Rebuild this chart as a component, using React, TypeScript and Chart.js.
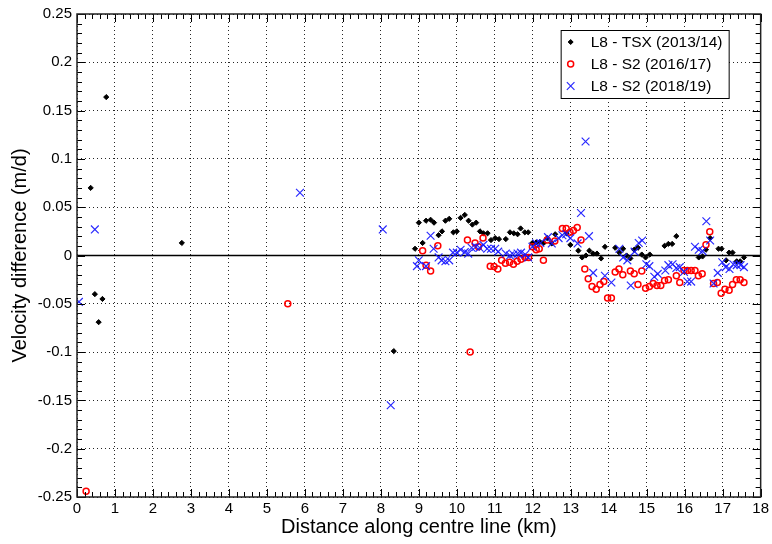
import React, { useEffect, useRef } from 'react';
import { Chart, registerables } from 'chart.js';

Chart.register(...registerables);

// ---------- data ----------
const xTickValues = [0, 1, 2, 3, 4, 5, 6, 7, 8, 9, 10, 11, 12, 13, 14, 15, 16, 17, 18];
const yTickValues = [-0.25, -0.2, -0.15, -0.1, -0.05, 0, 0.05, 0.1, 0.15, 0.2, 0.25];

const seriesLabels = ['L8 - TSX (2013/14)', 'L8 - S2 (2016/17)', 'L8 - S2 (2018/19)'];

const tsxX = [0.36, 0.47, 0.57, 0.67, 0.77, 2.76, 8.34,
  8.90, 9.00, 9.10, 9.19, 9.31, 9.40, 9.52, 9.61, 9.70, 9.80, 9.91, 10.00, 10.10, 10.21, 10.31, 10.41, 10.51, 10.61, 10.70, 10.81, 10.90, 11.01, 11.11, 11.29, 11.40, 11.50, 11.60, 11.68, 11.79, 11.88, 11.99, 12.09, 12.19, 12.29, 12.38, 12.50, 12.59, 12.89, 12.99, 13.20, 13.30, 13.40, 13.49, 13.59, 13.69, 13.80, 13.90, 14.17, 14.28, 14.38, 14.47, 14.57, 14.67, 14.77, 14.87, 14.97, 15.08, 15.47, 15.57, 15.67, 15.78, 16.37, 16.47, 16.56, 16.67, 16.89, 16.97, 17.09, 17.17, 17.26, 17.37, 17.46, 17.56];
const tsxY = [0.070, -0.040, -0.069, -0.045, 0.164, 0.013, -0.099,
  0.007, 0.034, 0.013, 0.036, 0.037, 0.034, 0.021, 0.025, 0.036, 0.038, 0.024, 0.025, 0.039, 0.042, 0.036, 0.032, 0.034, 0.025, 0.023, 0.023, 0.016, 0.018, 0.017, 0.017, 0.024, 0.023, 0.022, 0.028, 0.024, 0.024, 0.013, 0.0135, 0.014, 0.013, 0.018, 0.0125, 0.022, 0.023, 0.011, 0.005, -0.002, 0.000, 0.005, 0.002, 0.002, -0.003, 0.009, 0.008, 0.003, 0.007, 0.000, -0.003, 0.006, 0.008, 0.001, -0.002, 0.001, 0.010, 0.012, 0.012, 0.020, -0.002, -0.001, 0.006, 0.018, 0.007, 0.007, -0.005, 0.003, 0.003, -0.006, -0.006, -0.002];

const s2a_X = [0.24, 5.55, 10.35,
  9.10, 9.19, 9.31, 9.50, 10.28, 10.48, 10.57, 10.69, 10.88, 10.98, 11.08, 11.18, 11.28, 11.39, 11.49, 11.59, 11.69, 11.80, 11.89, 11.99, 12.09, 12.17, 12.28, 12.38, 12.58, 12.78, 12.88, 12.98, 13.07, 13.17, 13.27, 13.37, 13.46, 13.56, 13.67, 13.77, 13.87, 13.97, 14.07, 14.17, 14.27, 14.37, 14.57, 14.67, 14.77, 14.87, 14.97, 15.07, 15.17, 15.27, 15.37, 15.47, 15.57, 15.78, 15.87, 15.98, 16.07, 16.17, 16.27, 16.36, 16.46, 16.56, 16.66, 16.76, 16.86, 16.96, 17.06, 17.17, 17.26, 17.36, 17.46, 17.56];
const s2a_Y = [-0.244, -0.050, -0.100,
  0.005, -0.010, -0.016, 0.010, 0.016, 0.013, 0.009, 0.018, -0.011, -0.0115, -0.014, -0.005, -0.008, -0.007, -0.009, -0.006, -0.004, -0.002, -0.002, 0.009, 0.006, 0.007, -0.005, 0.016, 0.015, 0.028, 0.028, 0.024, 0.026, 0.029, 0.016, -0.014, -0.024, -0.032, -0.035, -0.030, -0.027, -0.044, -0.044, -0.017, -0.014, -0.020, -0.016, -0.019, -0.030, -0.016, -0.034, -0.032, -0.029, -0.031, -0.031, -0.026, -0.025, -0.021, -0.028, -0.0155, -0.0155, -0.0155, -0.0155, -0.021, -0.019, 0.011, 0.0245, -0.029, -0.028, -0.039, -0.035, -0.036, -0.030, -0.025, -0.025, -0.028];

const s2b_X = [0.05, 0.47, 5.87, 8.05, 8.26,
  8.95, 9.00, 9.19, 9.31, 9.39, 9.52, 9.60, 9.70, 9.80, 9.90, 10.00, 10.10, 10.21, 10.30, 10.39, 10.50, 10.60, 10.70, 10.80, 10.90, 11.01, 11.09, 11.29, 11.40, 11.49, 11.60, 11.69, 11.80, 11.88, 11.99, 12.09, 12.20, 12.40, 12.50, 12.68, 12.78, 12.88, 12.99, 13.18, 13.27, 13.39, 13.48, 13.59, 13.90, 14.07, 14.28, 14.38, 14.49, 14.58, 14.68, 14.79, 14.88, 14.99, 15.07, 15.20, 15.29, 15.49, 15.57, 15.68, 15.78, 15.87, 15.98, 16.07, 16.17, 16.27, 16.37, 16.47, 16.57, 16.67, 16.76, 16.87, 16.99, 17.08, 17.18, 17.28, 17.37, 17.47, 17.56];
const s2b_Y = [-0.048, 0.027, 0.065, 0.027, -0.155,
  -0.011, -0.005, -0.011, 0.0205, 0.007, -0.002, -0.005, -0.006, -0.005, 0.003, 0.003, 0.006, 0.0035, 0.002, 0.008, 0.009, 0.008, 0.011, 0.007, 0.007, 0.007, 0.004, 0.002, 0.000, 0.001, 0.002, 0.003, 0.001, -0.002, 0.009, 0.0125, 0.013, 0.019, 0.0125, 0.018, 0.021, 0.022, 0.018, 0.0125, 0.044, 0.118, 0.020, -0.018, -0.021, -0.028, 0.007, -0.002, -0.005, -0.031, 0.004, 0.013, 0.0155, -0.009, -0.011, -0.022, -0.019, -0.0155, -0.010, -0.009, -0.013, -0.012, -0.017, -0.027, -0.027, 0.009, 0.006, 0.0045, 0.0355, 0.0155, -0.029, -0.018, -0.007, -0.012, -0.014, -0.009, -0.010, -0.010, -0.012];

const FONT = "'Liberation Sans', Arial, Helvetica, sans-serif";
const BLUE = 'rgba(20,20,255,0.9)';
const RED = '#ff0000';

const pts = (xs: number[], ys: number[]) => xs.map((x, i) => ({ x, y: ys[i] }));

function drawMarker(ctx: CanvasRenderingContext2D, kind: number, x: number, y: number) {
  ctx.save();
  if (kind === 0) {
    ctx.fillStyle = '#000';
    ctx.strokeStyle = '#000';
    ctx.lineWidth = 1;
    ctx.beginPath();
    ctx.moveTo(x, y - 2.5); ctx.lineTo(x + 2.5, y); ctx.lineTo(x, y + 2.5); ctx.lineTo(x - 2.5, y); ctx.closePath();
    ctx.fill(); ctx.stroke();
  } else if (kind === 1) {
    ctx.strokeStyle = RED; ctx.lineWidth = 1.5;
    ctx.beginPath(); ctx.arc(x, y, 3, 0, Math.PI * 2); ctx.stroke();
  } else {
    ctx.strokeStyle = BLUE; ctx.lineWidth = 1.2;
    const d = 3.8;
    ctx.beginPath();
    ctx.moveTo(x - d, y - d); ctx.lineTo(x + d, y + d);
    ctx.moveTo(x - d, y + d); ctx.lineTo(x + d, y - d);
    ctx.stroke();
  }
  ctx.restore();
}

const decorPlugin = {
  id: 'decor',
  beforeDatasetsDraw(chart: any) {
    const { ctx, chartArea: a, scales } = chart;
    const y0 = scales.y.getPixelForValue(0);
    ctx.save();
    ctx.strokeStyle = '#000';
    ctx.lineWidth = 1.5;
    ctx.beginPath();
    ctx.moveTo(a.left, y0); ctx.lineTo(a.right, y0);
    ctx.stroke();
    ctx.restore();
  },
  afterDraw(chart: any) {
    const { ctx, chartArea: a, scales } = chart;
    const xs = scales.x, ys = scales.y;
    ctx.save();
    ctx.strokeStyle = '#000';
    ctx.lineWidth = 1;
    ctx.beginPath();
    for (let i = 0; i <= 90; i++) {
      const v = i * 0.2;
      const px = Math.round(xs.getPixelForValue(v)) + 0.5;
      const len = i % 5 === 0 ? 8 : 5;
      ctx.moveTo(px, a.bottom); ctx.lineTo(px, a.bottom - len);
      ctx.moveTo(px, a.top); ctx.lineTo(px, a.top + len);
    }
    for (let i = 0; i <= 50; i++) {
      const v = -0.25 + i * 0.01;
      const py = Math.round(ys.getPixelForValue(v)) + 0.5;
      const len = i % 5 === 0 ? 8 : 5;
      ctx.moveTo(a.left, py); ctx.lineTo(a.left + len, py);
      ctx.moveTo(a.right, py); ctx.lineTo(a.right - len, py);
    }
    ctx.stroke();
    ctx.strokeStyle = '#222';
    ctx.lineWidth = 1.5;
    ctx.strokeRect(a.left, a.top, a.right - a.left, a.bottom - a.top);

    const bw = 168, bh = 68;
    const bx = a.right - 32 - bw, by = a.top + 16;
    ctx.fillStyle = '#fff';
    ctx.fillRect(bx, by, bw, bh);
    ctx.strokeStyle = '#000';
    ctx.lineWidth = 1;
    ctx.strokeRect(bx + 0.5, by + 0.5, bw, bh);
    ctx.font = `15.5px ${FONT}`;
    ctx.textBaseline = 'middle';
    ctx.textAlign = 'left';
    const rows = [12, 34, 56];
    seriesLabels.forEach((lab, i) => {
      drawMarker(ctx, i, bx + 10, by + rows[i]);
      ctx.fillStyle = '#000';
      ctx.fillText(lab, bx + 30, by + rows[i] + 1);
    });
    ctx.restore();
  },
};

export default function App() {
  const ref = useRef<HTMLCanvasElement | null>(null);
  useEffect(() => {
    if (!ref.current) return;
    const chart = new Chart(ref.current, {
      type: 'scatter',
      data: {
        datasets: [
          {
            label: seriesLabels[0],
            data: pts(tsxX, tsxY),
            pointStyle: 'rectRot',
            pointRadius: 2.6,
            pointBackgroundColor: '#000',
            pointBorderColor: '#000',
            pointBorderWidth: 1,
            order: 2,
          },
          {
            label: seriesLabels[1],
            data: pts(s2a_X, s2a_Y),
            pointStyle: 'circle',
            pointRadius: 3,
            pointBackgroundColor: 'rgba(0,0,0,0)',
            pointBorderColor: RED,
            pointBorderWidth: 1.5,
            order: 1,
          },
          {
            label: seriesLabels[2],
            data: pts(s2b_X, s2b_Y),
            pointStyle: 'crossRot',
            pointRadius: 5.5,
            pointBorderColor: BLUE,
            pointBorderWidth: 1.2,
            order: 0,
          },
        ],
      },
      options: {
        responsive: false,
        animation: false,
        devicePixelRatio: 1,
        layout: { padding: { top: 14, right: 9, left: 0, bottom: 0 } },
        plugins: { legend: { display: false }, tooltip: { enabled: false } },
        scales: {
          x: {
            type: 'linear',
            min: 0,
            max: 18,
            afterBuildTicks: (scale: any) => { scale.ticks = xTickValues.map((v) => ({ value: v })); },
            afterFit: (scale: any) => { scale.height = 47; },
            ticks: { color: '#000', font: { family: FONT, size: 15 }, padding: 3, maxRotation: 0, autoSkip: false,
              callback: (v: any) => String(v) },
            grid: { color: 'rgba(0,0,0,0.85)', lineWidth: 1, drawTicks: false },
            border: { display: false, dash: [1, 3] },
            title: { display: true, text: 'Distance along centre line (km)', color: '#000', font: { family: FONT, size: 20 }, padding: { top: 0, bottom: 5 } },
          },
          y: {
            type: 'linear',
            min: -0.25,
            max: 0.25,
            afterBuildTicks: (scale: any) => { scale.ticks = yTickValues.map((v) => ({ value: v })); },
            afterFit: (scale: any) => { scale.width = 77; },
            ticks: { color: '#000', font: { family: FONT, size: 15 }, padding: 5, autoSkip: false,
              callback: (v: any) => String(parseFloat(Number(v).toFixed(2)) + 0) },
            grid: { color: 'rgba(0,0,0,0.85)', lineWidth: 1, drawTicks: false },
            border: { display: false, dash: [1, 3] },
            title: { display: true, text: 'Velocity difference (m/d)', color: '#000', font: { family: FONT, size: 20 }, padding: { top: 8, bottom: 0 } },
          },
        },
      },
      plugins: [decorPlugin],
    } as any);
    return () => chart.destroy();
  }, []);
  return (
    <div style={{ position: 'absolute', left: 0, top: 0, width: 772, height: 544, background: '#fff' }}>
      <canvas ref={ref} width={772} height={544} />
    </div>
  );
}
